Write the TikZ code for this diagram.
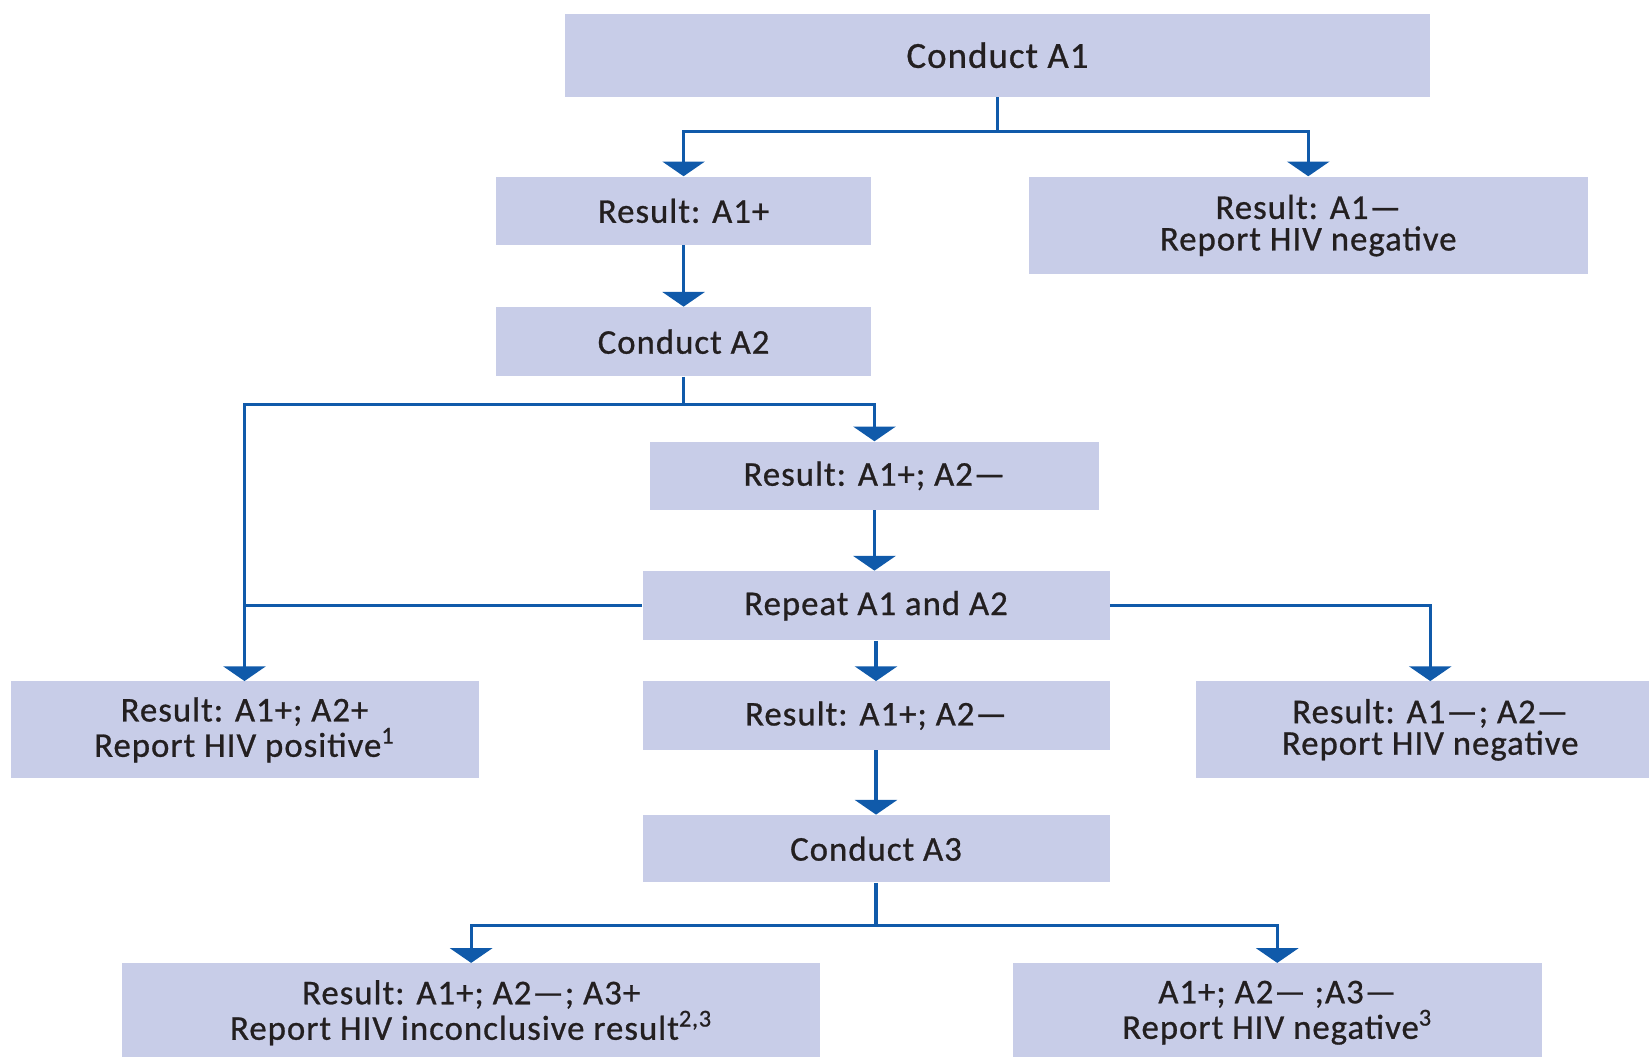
\documentclass[tikz,border=0pt]{standalone}
\usepackage{fontspec}
\setmainfont{Carlito}[LetterSpace=3,FakeBold=0.8]
\usetikzlibrary{arrows.meta,calc}
\definecolor{boxfill}{RGB}{200,205,232}
\definecolor{linecol}{RGB}{16,90,170}
\definecolor{txt}{RGB}{35,31,32}
\begin{document}
\begin{tikzpicture}[x=0.5pt,y=-0.5pt,
  box/.style={fill=boxfill, draw=none, align=center, inner sep=0pt,
    font=\fontsize{16.5}{15}\selectfont, text=txt},
  big/.style={font=\fontsize{17.5}{15}\selectfont},
  wh/.style 2 args={minimum width=#1*0.5pt, minimum height=#2*0.5pt},
  conn/.style={draw=linecol, line width=1.5pt},
  arr/.style={conn, -{Triangle[width=20pt,length=7pt]}}]
\useasboundingbox (0,0) rectangle (1568,1005);
% boxes
\node[box, big, wh={823}{79}] (A1) at (948.5,52.5) {Conduct A1};
\node[box, wh={356}{65}] (R1p) at (650,200.5) {Result: A1+};
\node[box, wh={532}{93}] (R1n) at (1244,214.5) {Result: A1—\\Report HIV negative};
\node[box, wh={356}{66}] (A2) at (650,325) {Conduct A2};
\node[box, wh={427}{65}] (R2a) at (831.5,452.5) {Result: A1+; A2—};
\node[box, wh={444}{66}] (Rep) at (833,576) {Repeat A1 and A2};
\node[box, wh={445}{92}] (Rpos) at (232.5,694) {Result: A1+; A2+\\Report HIV positive\textsuperscript{1}};
\node[box, wh={444}{65}] (R2b) at (833,680.5) {Result: A1+; A2—};
\node[box, wh={446}{92}] (Rneg) at (1360,694) {Result: A1—; A2—\\Report HIV negative};
\node[box, wh={444}{64}] (A3) at (833,807) {Conduct A3};
\node[box, wh={664}{94}] (B1) at (448,963) {Result: A1+; A2—; A3+\\Report HIV inconclusive result\textsuperscript{2,3}};
\node[box, wh={503}{94}] (B2) at (1214.5,963) {A1+; A2— ;A3—\\Report HIV negative\textsuperscript{3}};
% connectors
\coordinate (j1) at (948.5,125);
\draw[conn] (A1.south) -- (j1);
\draw[arr] (j1) -| (R1p.north);
\draw[arr] (j1) -| (R1n.north);
\draw[arr] (R1p) -- (A2);
\coordinate (j2) at (650,385);
\draw[conn] (A2.south) -- (j2);
\draw[arr] (j2) -| (R2a.north);
\draw[arr] (j2) -| (Rpos.north);
\draw[arr] (R2a) -- (R2a.south |- Rep.north);
\draw[conn] (Rep.west) -- (Rep.west -| Rpos.north);
\draw[arr] (Rep.east) -| (Rneg.north);
\draw[arr] (Rep) -- (R2b);
\draw[arr] (R2b) -- (A3);
\coordinate (j3) at (833,880);
\draw[conn] (A3.south) -- (j3);
\draw[arr] (j3) -| (B1.north);
\draw[arr] (j3) -| (B2.north);
\end{tikzpicture}
\end{document}
